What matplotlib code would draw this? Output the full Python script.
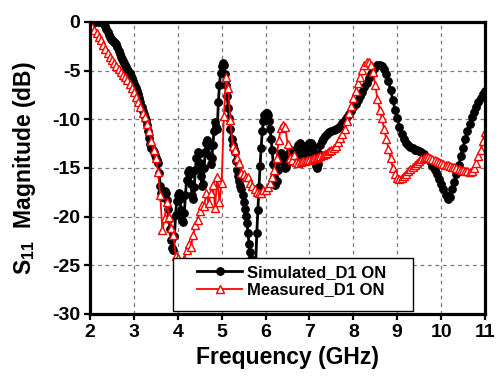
import numpy as np
import matplotlib
matplotlib.use("Agg")
import matplotlib.pyplot as plt
from matplotlib.patches import Rectangle

plt.rcParams['font.family'] = ['Liberation Sans', 'DejaVu Sans']
plt.rcParams['font.weight'] = 'bold'
plt.rcParams['axes.unicode_minus'] = False
plt.rcParams['mathtext.fontset'] = 'custom'
plt.rcParams['mathtext.rm'] = 'Liberation Sans:bold'
plt.rcParams['mathtext.bf'] = 'Liberation Sans:bold'
plt.rcParams['mathtext.it'] = 'Liberation Sans:bold'
plt.rcParams['mathtext.default'] = 'rm'

# ---------------- data ----------------
# Simulated S11, part A: 2.000 .. 7.275 GHz, step 0.025 GHz
sim_a = [
    -0.6, -0.4, -0.2, -0.1, 0.0, 0.0, 0.1, 0.1,          # 2.000
    0.0, 0.0, 0.1, 0.0, -0.1, -0.2, -0.4, -0.7,          # 2.200
    -1.0, -1.3, -1.5, -1.7, -1.9, -2.0, -2.1, -2.2,      # 2.400
    -2.3, -2.6, -3.0, -3.3, -3.6, -3.8, -4.0, -4.2,      # 2.600
    -4.4, -4.6, -4.8, -5.0, -5.2, -5.5, -5.8, -6.1,      # 2.800
    -6.4, -6.6, -6.8, -7.1, -7.4, -7.8, -8.2, -8.7,      # 3.000
    -9.1, -9.5, -9.8, -10.1, -10.6, -11.2, -11.9, -12.5, # 3.200
    -12.9, -13.2, -13.4, -13.7, -14.0, -14.2, -14.5, -15.5,  # 3.400
    -16.8, -17.6, -18.0, -17.8, -17.4, -17.6, -18.3, -19.2,  # 3.600
    -20.2, -21.3, -22.4, -23.2, -23.4, -22.0, -19.8, -18.4,  # 3.800
    -17.8, -17.6, -18.2, -19.3, -20.3, -20.5, -19.6, -17.8,  # 4.000
    -16.2, -15.4, -15.2, -15.6, -16.6, -17.8, -18.2, -17.0,  # 4.200
    -15.2, -14.0, -13.4, -13.6, -14.5, -15.8, -16.8, -16.6,  # 4.400
    -15.0, -13.4, -12.4, -12.1, -12.6, -13.8, -14.6, -14.0,  # 4.600
    -12.6, -11.2, -10.3, -10.8, -11.0, -8.2, -6.5, -5.2,     # 4.800
    -4.5, -4.2, -4.4, -5.3, -6.5, -7.6, -8.8, -9.9,          # 5.000
    -11.0, -12.0, -12.6, -13.0, -13.4, -14.3, -15.2, -15.8,  # 5.200
    -16.3, -16.8, -17.2, -17.8, -18.5, -19.2, -19.9, -20.6,  # 5.400
    -21.7, -22.8, -23.6, -24.4, -25.3, -26.2, -26.8, -25.0,  # 5.600
    -21.7, -19.3, -17.0, -14.8, -12.9, -11.2, -10.2, -9.6,   # 5.800
    -9.3, -9.3, -9.6, -10.2, -11.0, -12.0, -13.2, -14.6,     # 6.000
    -15.9, -16.7, -16.3, -15.2, -14.3, -13.8, -13.5, -13.6,  # 6.200
    -14.0, -14.6, -15.0, -14.9, -14.4, -13.8, -13.3, -13.2,  # 6.400
    -13.3, -13.7, -14.0, -14.0, -13.6, -13.0, -12.6, -12.4,  # 6.600
    -12.6, -13.0, -13.6, -14.0, -14.0, -13.6, -13.0, -12.6,  # 6.800
    -12.4, -12.4, -12.6, -13.0, -13.6, -14.2, -14.8, -15.0,  # 7.000
    -14.6, -13.6, -12.6, -12.2,                              # 7.200
]
# Simulated S11, part B: 7.30 .. 11.00 GHz, step 0.05 GHz
sim_b = [
    -12.0, -11.7, -11.5, -11.3, -11.2, -11.1, -11.0, -10.9,  # 7.30
    -10.7, -10.4, -10.1, -9.8, -9.5, -9.1, -8.7, -8.4,       # 7.70
    -8.0, -7.6, -7.2, -6.7, -6.3, -5.8, -5.3, -4.9,          # 8.10
    -4.6, -4.4, -4.4, -4.5, -4.8, -5.3, -6.1, -7.0,          # 8.50
    -8.0, -9.0, -9.9, -10.8, -11.5, -12.0, -12.4, -12.6,     # 8.90
    -12.8, -12.9, -13.1, -13.2, -13.3, -13.4, -13.6, -13.9,  # 9.30
    -14.0, -14.3, -14.8, -15.2, -15.6, -16.1, -16.6, -17.2,  # 9.70
    -17.8, -18.2, -18.0, -17.2, -16.4, -15.6, -14.7, -13.8,  # 10.10
    -12.9, -12.0, -11.2, -10.5, -9.8, -9.2, -8.7, -8.2,      # 10.50
    -7.8, -7.4, -7.1,                                        # 10.90
]
# Measured S11: 2.00 .. 11.00 GHz, step 0.05 GHz
meas = [
    -0.3, -0.5, -0.8, -1.1, -1.5, -1.9, -2.4, -2.8, -3.2, -3.6,            # 2.00
    -3.9, -4.2, -4.5, -4.8, -5.1, -5.4, -5.7, -6.0, -6.4, -6.8,            # 2.50
    -7.2, -7.7, -8.2, -8.7, -9.3, -9.8, -10.5, -11.2, -12.2, -13.2,        # 3.00
    -14.0, -15.4, -17.8, -21.4, -20.1, -18.5, -20.0, -21.2, -21.9, -24.0,  # 3.50
    -24.2, -24.8, -25.0, -24.4, -23.4, -22.8, -23.1, -21.9, -20.9, -20.3,  # 4.00
    -19.4, -18.8, -18.9, -17.6, -18.6, -17.6, -16.7, -19.1, -15.9, -18.5,  # 4.50
    -16.5, -9.7, -5.6, -6.8, -10.1, -12.7, -13.2, -14.0, -14.5, -15.5,     # 5.00
    -15.6, -15.9, -15.9, -16.5, -16.9, -17.2, -17.5, -17.6, -17.6, -17.3,  # 5.50
    -17.3, -17.0, -16.5, -15.9, -15.2, -14.0, -12.1, -10.9, -10.6, -10.8,  # 6.00
    -12.5, -14.0, -14.2, -13.7, -14.4, -14.5, -14.4, -14.3, -14.3, -14.2,  # 6.50
    -14.2, -14.1, -14.0, -14.0, -13.9, -13.8, -13.7, -13.6, -13.5, -13.3,  # 7.00
    -13.1, -12.9, -12.7, -12.3, -11.9, -11.5, -11.0, -10.2, -9.4, -8.6,    # 7.50
    -7.8, -7.1, -6.3, -5.6, -4.9, -4.4, -4.1, -4.1, -4.4, -5.1,            # 8.00
    -6.5, -7.9, -9.0, -9.9, -11.0, -12.0, -13.0, -14.0, -15.0, -15.6,      # 8.50
    -16.0, -16.1, -16.0, -15.8, -15.6, -15.3, -15.1, -14.9, -14.7, -14.5,  # 9.00
    -14.3, -14.1, -14.0, -13.9, -13.9, -14.0, -14.1, -14.2, -14.3, -14.4,  # 9.50
    -14.5, -14.6, -14.7, -14.7, -14.8, -14.9, -14.9, -15.0, -15.1, -15.2,  # 10.00
    -15.2, -15.3, -15.3, -15.4, -15.3, -15.0, -14.5, -13.8, -13.2, -12.2,  # 10.50
    -11.3,                                                                 # 11.00
]
sim_freq = np.concatenate([np.linspace(2.0, 7.275, len(sim_a)),
                           np.linspace(7.3, 11.0, len(sim_b))])
sim_vals = np.array(sim_a + sim_b)
meas_freq = np.linspace(2.0, 11.0, len(meas))

x_ticks = [2, 3, 4, 5, 6, 7, 8, 9, 10, 11]
y_ticks = [-30, -25, -20, -15, -10, -5, 0]
labels = ['Simulated_D1 ON', 'Measured_D1 ON']

# ---------------- figure ----------------
W, H = 498, 378
fig = plt.figure(figsize=(W / 100, H / 100), dpi=100)
L, R, T, B = 90, 485, 22, 314
ax = fig.add_axes([L / W, 1 - B / H, (R - L) / W, (B - T) / H])

ax.plot(sim_freq, sim_vals, color='black', lw=2.0, marker='o', ms=5.3,
        mfc='black', mec='black', label=labels[0], zorder=3)
ax.plot(meas_freq, meas, color='red', lw=1.3, marker='^', ms=5.8,
        mfc='white', mec='red', mew=1.0, label=labels[1], zorder=4)

ax.set_xlim(2, 11)
ax.set_ylim(-30, 0)
ax.set_xticks(x_ticks)
ax.set_yticks(y_ticks)
ax.grid(True, color='#7a7a7a', linestyle=(0, (3, 3)), linewidth=0.9)
ax.set_axisbelow(True)
for s in ax.spines.values():
    s.set_linewidth(2.3)
    s.set_zorder(6)
ax.tick_params(direction='out', length=4, width=1.6, labelsize=14, pad=3)
for lab in ax.get_xticklabels() + ax.get_yticklabels():
    lab.set_fontweight('bold')

ax.set_xlabel('Frequency (GHz)', fontsize=16.5, fontweight='bold', labelpad=4)
ax.set_ylabel(r'S$_{11}$  Magnitude (dB)', fontsize=16.5, fontweight='bold', labelpad=10)

def px2ax(px, py):
    return (px - L) / (R - L), (B - py) / (B - T)

x0, y1 = px2ax(173, 258)
x1, y0 = px2ax(413, 311)
ax.add_patch(Rectangle((x0, y0), x1 - x0, y1 - y0, transform=ax.transAxes,
                       facecolor='white', edgecolor='black', lw=1.0, zorder=7))
hx, hy = px2ax(197, 265)
leg = ax.legend(loc='upper left', bbox_to_anchor=(hx, hy), frameon=False,
                borderpad=0, borderaxespad=0, handlelength=2.7,
                handletextpad=0.3, labelspacing=0.15,
                prop={'weight': 'bold', 'size': 12})
leg.set_zorder(8)

fig.savefig('out.png', dpi=100)
